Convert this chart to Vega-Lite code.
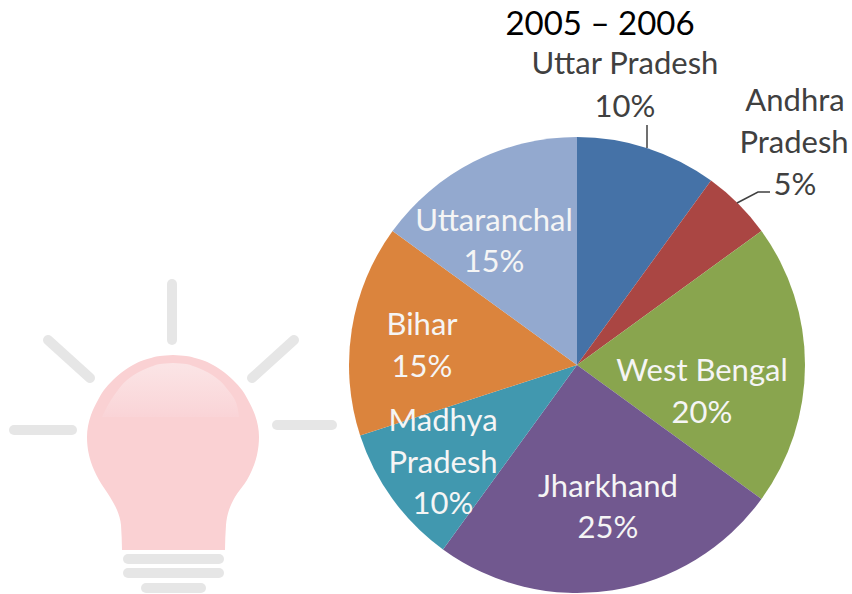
{
"$schema":"https://vega.github.io/schema/vega-lite/v6.json",
"width":852,"height":594,"autosize":{"type":"none"},"padding":0,
"background":"white","view":{"stroke":null},
"datasets":{
"slices":[
{"state":"Uttar Pradesh","share":10,"rank":1},
{"state":"Andhra Pradesh","share":5,"rank":2},
{"state":"West Bengal","share":20,"rank":3},
{"state":"Jharkhand","share":25,"rank":4},
{"state":"Madhya Pradesh","share":10,"rank":5},
{"state":"Bihar","share":15,"rank":6},
{"state":"Uttaranchal","share":15,"rank":7}],
"outer":[
{"t":"Uttar Pradesh","x":625,"y":65},{"t":"10%","x":625,"y":108},
{"t":"Andhra","x":795,"y":102},{"t":"Pradesh","x":794,"y":144},{"t":"5%","x":795,"y":186}],
"inner":[
{"t":"Uttaranchal","x":494,"y":222},{"t":"15%","x":494,"y":263},
{"t":"Bihar","x":422,"y":326},{"t":"15%","x":422,"y":368},
{"t":"Madhya","x":443,"y":422},{"t":"Pradesh","x":443,"y":464},{"t":"10%","x":443,"y":505},
{"t":"West Bengal","x":702,"y":372},{"t":"20%","x":702,"y":414},
{"t":"Jharkhand","x":608,"y":488},{"t":"25%","x":608,"y":529}],
"leaders":[
{"id":"a","o":1,"x":647,"y":125},{"id":"a","o":2,"x":647,"y":148},
{"id":"b","o":1,"x":770,"y":192},{"id":"b","o":2,"x":758,"y":192},{"id":"b","o":3,"x":737,"y":203}],
"bulb":[
{"y":355,"l":173,"r":173},{"y":356,"l":160,"r":186},{"y":358,"l":151,"r":195},{"y":360,"l":144,"r":202},{"y":365,"l":133,"r":213},{"y":370,"l":125,"r":221},{"y":380,"l":113,"r":233},{"y":390,"l":104,"r":242},{"y":400,"l":98,"r":248},{"y":415,"l":91,"r":255},{"y":437,"l":87,"r":259},{"y":455,"l":89,"r":257},{"y":470,"l":94,"r":252},{"y":480,"l":99,"r":247},{"y":497,"l":110,"r":235},{"y":510,"l":117,"r":229},{"y":525,"l":121,"r":226},{"y":550,"l":122,"r":225}],
"shine":[
{"y":363,"l":173,"r":173},{"y":364,"l":160,"r":186},{"y":366,"l":153,"r":193},{"y":370,"l":143,"r":203},{"y":380,"l":127,"r":219},{"y":390,"l":118,"r":228},{"y":400,"l":111,"r":235},{"y":417,"l":102,"r":239}],
"rays":[
{"x":172,"x2":172,"y":284,"y2":340},{"x":48,"x2":90,"y":340,"y2":378},{"x":294,"x2":252,"y":340,"y2":378},{"x":14,"x2":72,"y":430,"y2":430},{"x":277,"x2":332,"y":425,"y2":425},
{"x":128,"x2":219,"y":559,"y2":559},{"x":128,"x2":219,"y":573,"y2":573},{"x":146,"x2":201,"y":588,"y2":588}]
},
"layer":[
{"data":{"name":"rays"},"mark":{"type":"rule","stroke":"#e6e6e6","strokeWidth":10,"strokeCap":"round"},
 "encoding":{"x":{"field":"x","type":"quantitative","scale":{"domain":[0,852],"nice":false},"axis":null},"x2":{"field":"x2"},"y":{"field":"y","type":"quantitative","scale":{"domain":[594,0],"nice":false},"axis":null},"y2":{"field":"y2"}}},
{"data":{"name":"bulb"},"mark":{"type":"area","orient":"horizontal","interpolate":"monotone","color":"#fad1d3"},
 "encoding":{"y":{"field":"y","type":"quantitative","axis":null},"x":{"field":"l","type":"quantitative","axis":null},"x2":{"field":"r"}}},
{"data":{"name":"shine"},"mark":{"type":"area","orient":"horizontal","interpolate":"monotone","color":{"gradient":"linear","x1":0,"y1":0,"x2":0,"y2":1,"stops":[{"offset":0,"color":"#fbe5e6"},{"offset":1,"color":"#fad4d7"}]}},
 "encoding":{"y":{"field":"y","type":"quantitative","axis":null},"x":{"field":"l","type":"quantitative","axis":null},"x2":{"field":"r"}}},
{"data":{"name":"slices"},"mark":{"type":"arc","outerRadius":228},
 "encoding":{"theta":{"field":"share","type":"quantitative","stack":true},"order":{"field":"rank"},
  "x":{"datum":577,"type":"quantitative","axis":null},"y":{"datum":365,"type":"quantitative","axis":null},
  "color":{"field":"state","type":"nominal","legend":null,"scale":{"domain":["Uttar Pradesh","Andhra Pradesh","West Bengal","Jharkhand","Madhya Pradesh","Bihar","Uttaranchal"],"range":["#4572A7","#AA4643","#89A54E","#71588F","#4198AF","#DB843D","#93A9CF"]}}}},
{"data":{"name":"leaders"},"mark":{"type":"line","stroke":"#404040","strokeWidth":1.5},
 "encoding":{"x":{"field":"x","type":"quantitative","axis":null},"y":{"field":"y","type":"quantitative","axis":null},"detail":{"field":"id"},"order":{"field":"o"}}},
{"data":{"name":"outer"},"mark":{"type":"text","font":"Lato","fontSize":31,"color":"#404040","align":"center","baseline":"middle"},
 "encoding":{"x":{"field":"x","type":"quantitative","axis":null},"y":{"field":"y","type":"quantitative","axis":null},"text":{"field":"t"}}},
{"data":{"name":"inner"},"mark":{"type":"text","font":"Lato","fontSize":31,"color":"#f5f5f5","align":"center","baseline":"middle"},
 "encoding":{"x":{"field":"x","type":"quantitative","axis":null},"y":{"field":"y","type":"quantitative","axis":null},"text":{"field":"t"}}},
{"data":{"values":[{"t":"2005 – 2006","x":600,"y":25}]},"mark":{"type":"text","font":"Lato","fontSize":33,"color":"#000000","align":"center","baseline":"middle"},
 "encoding":{"x":{"field":"x","type":"quantitative","axis":null},"y":{"field":"y","type":"quantitative","axis":null},"text":{"field":"t"}}}
]
}
